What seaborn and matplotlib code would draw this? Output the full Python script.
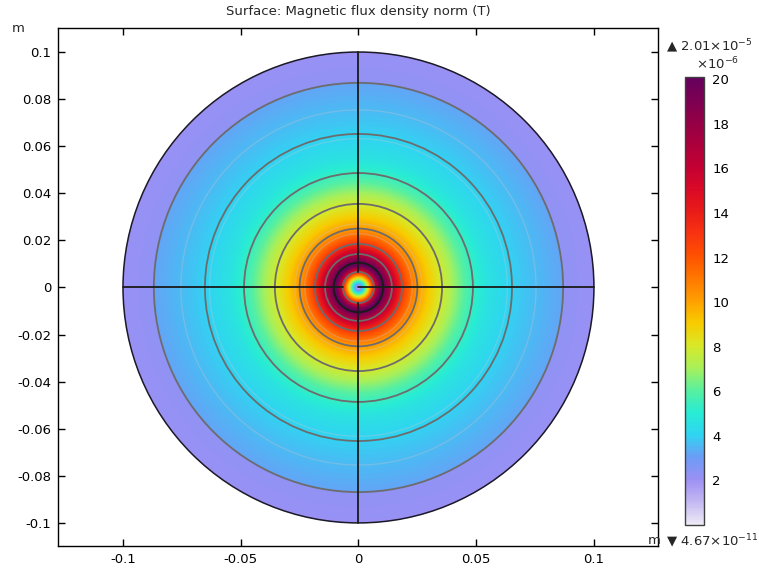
import numpy as np
import matplotlib
matplotlib.use("Agg")
import matplotlib.pyplot as plt
import seaborn as sns
from matplotlib.patches import Circle

sns.set_theme(style="ticks")
plt.rcParams['font.family'] = ['DejaVu Sans']
plt.rcParams['axes.unicode_minus'] = False

# radial profile of |B| (units 1e-6 T)
r_inner = [0.0, 0.001, 0.002, 0.003, 0.004, 0.005, 0.0066, 0.008, 0.0095, 0.0105,
           0.012, 0.014, 0.0185, 0.020, 0.025, 0.030, 0.035, 0.040, 0.045, 0.050,
           0.055, 0.065, 0.075, 0.0867]
b_inner = [0.8, 2.2, 4.2, 6.2, 8.3, 10.5, 14.0, 17.5, 20.0, 19.8,
           18.5, 16.5, 13.2, 12.2, 10.2, 9.0, 8.0, 7.0, 6.0, 5.2,
           4.6, 4.0, 3.6, 3.2]
r_outer = [0.0867, 0.093, 0.1]
b_outer = [2.3, 2.2, 2.1]
b_min, b_max = 4.67e-11, 2.01e-5

# geometry edges
edge_radii = [0.0066, 0.0142, 0.0185, 0.025, 0.0355, 0.0486, 0.0652, 0.0869]
faint_radii = [0.0228, 0.027, 0.0632, 0.0754]
black_radius = 0.0105
domain_radius = 0.1

# colour scale stops (values 0..20)
cmap_colors = ["#eeeaf6", "#c4b8f2", "#9c90f4", "#6c9cf6", "#30d4f2", "#28ecd4",
               "#58f0a0", "#a8f05a", "#d8e828", "#f8cc00", "#ffa000", "#ff7800",
               "#ff5200", "#f83410", "#ea1c18", "#da0a26", "#c40032", "#ac003c",
               "#940046", "#7c0052", "#66005e"]
cmap = sns.blend_palette(cmap_colors, as_cmap=True)

x_ticks = [-0.1, -0.05, 0, 0.05, 0.1]
x_labels = ["-0.1", "-0.05", "0", "0.05", "0.1"]
y_ticks = [-0.1, -0.08, -0.06, -0.04, -0.02, 0, 0.02, 0.04, 0.06, 0.08, 0.1]
y_labels = ["-0.1", "-0.08", "-0.06", "-0.04", "-0.02", "0", "0.02", "0.04", "0.06", "0.08", "0.1"]
cb_ticks = [2, 4, 6, 8, 10, 12, 14, 16, 18, 20]

W, H = 759, 568
fs = 9.5
fig = plt.figure(figsize=(W / 100, H / 100), dpi=100)
ax = fig.add_axes([58 / W, 1 - 546 / H, 600 / W, 518 / H])

# field on a grid
g = np.linspace(-domain_radius, domain_radius, 1201)
X, Y = np.meshgrid(g, g)
R = np.hypot(X, Y)
B = np.where(R <= r_outer[0], np.interp(R, r_inner, b_inner), np.interp(R, r_outer, b_outer))
B = np.ma.masked_where(R > domain_radius, B)
im = ax.imshow(B, extent=[-domain_radius, domain_radius, -domain_radius, domain_radius],
               origin="lower", cmap=cmap, vmin=0, vmax=b_max * 1e6, interpolation="bilinear")

for r in faint_radii:
    ax.add_patch(Circle((0, 0), r, fill=False, ec="#c8c8d0", lw=1.0, alpha=0.3))
for r in edge_radii:
    ax.add_patch(Circle((0, 0), r, fill=False, ec="#6c6c6c", lw=1.3))
ax.add_patch(Circle((0, 0), black_radius, fill=False, ec="#1a1a1a", lw=1.4))
ax.add_patch(Circle((0, 0), domain_radius, fill=False, ec="#1a1a2a", lw=1.1))

# cut lines
rd = edge_radii[0]
line_kw = dict(color="#1a1a1a", lw=1.3)
ax.plot([-domain_radius, -rd], [0, 0], **line_kw)
ax.plot([0, domain_radius], [0, 0], **line_kw)
ax.plot([0, 0], [rd, domain_radius], **line_kw)
ax.plot([0, 0], [-domain_radius, -rd], **line_kw)

ax.set_xlim(-0.1276, 0.1272)
ax.set_ylim(-0.1098, 0.1102)
ax.set_aspect("auto")
ax.set_xticks(x_ticks)
ax.set_xticklabels(x_labels)
ax.set_yticks(y_ticks)
ax.set_yticklabels(y_labels)
ax.tick_params(direction="in", length=5, width=1, top=True, right=True,
               labelsize=fs, colors="black", pad=5)
for s in ax.spines.values():
    s.set_color("black")
    s.set_linewidth(1.0)
ax.grid(False)
ax.set_title("Surface: Magnetic flux density norm (T)", fontsize=fs, pad=9)

fig.text(12 / W, 1 - 29 / H, "m", fontsize=fs, ha="left", va="center")
fig.text(648 / W, 1 - 541 / H, "m", fontsize=fs, ha="left", va="center")

# colour bar
cax = fig.add_axes([685 / W, 1 - 525 / H, 19 / W, 448 / H])
cb = fig.colorbar(im, cax=cax, ticks=cb_ticks)
cb.outline.set_edgecolor("#404040")
cb.outline.set_linewidth(1.0)
cax.tick_params(direction="in", length=3, width=1, left=True, right=True,
                labelsize=fs, colors="black", pad=6)
cax.set_yticklabels([str(t) for t in cb_ticks])

fig.text(666 / W, 1 - 46 / H, "\u25b2 2.01\u00d710$^{-5}$", fontsize=fs, ha="left", va="center")
fig.text(696 / W, 1 - 64 / H, "\u00d710$^{-6}$", fontsize=fs, ha="left", va="center")
fig.text(666 / W, 1 - 541 / H, "\u25bc 4.67\u00d710$^{-11}$", fontsize=fs, ha="left", va="center")

fig.savefig("out.png", dpi=100, facecolor="white")
